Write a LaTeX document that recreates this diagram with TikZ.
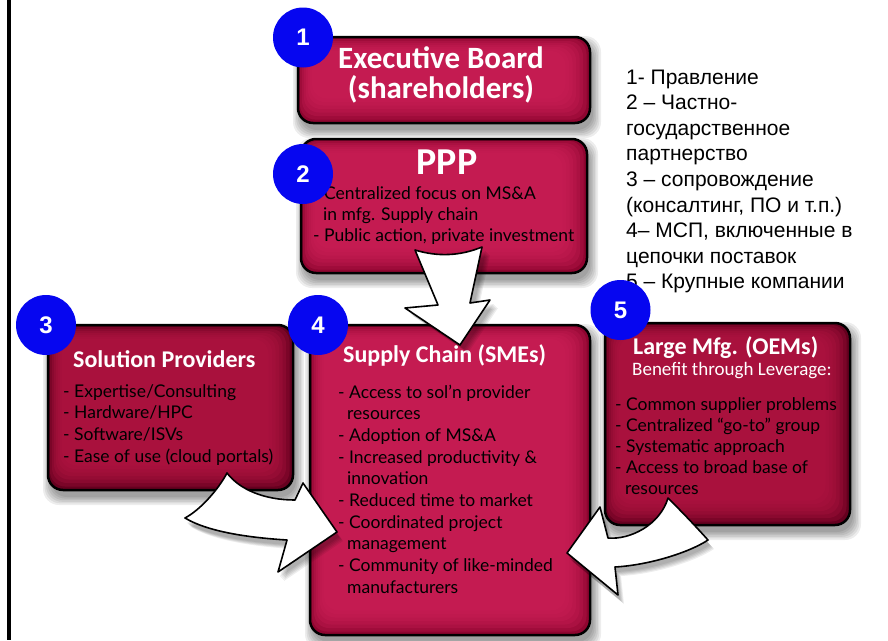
\documentclass[tikz,border=0pt]{standalone}
\usepackage{fontspec}
\setmainfont{Carlito}
\newfontfamily\arialf{Liberation Sans}
\newfontfamily\bodyf{Lato}
\usetikzlibrary{calc}
\definecolor{crimA}{rgb}{0.80,0.12,0.34}
\definecolor{crimC}{rgb}{0.56,0.02,0.19}
\definecolor{darkA}{rgb}{0.70,0.08,0.26}
\definecolor{darkC}{rgb}{0.40,0.0,0.12}
\definecolor{numblue}{rgb}{0.024,0.024,0.941}
\newcommand\boxshadow[4]{\foreach \k in {0,...,5}{\fill[black,opacity=0.07,rounded corners=16pt] ({#1+3-\k*1.6},{#2+7-\k*1.6}) rectangle ({#3+3+\k*1.6},{#4+7+\k*1.6});}}
\newcommand\vignette[2]{\foreach \k in {1,...,7}{\fill[#2,opacity=0.28,rounded corners=15pt] ([shift={({2*\k},{2*\k})}]#1.north west) rectangle ([shift={({-3.5*\k},{-3.5*\k})}]#1.south east);}
  \draw[black,line width=2.5pt,rounded corners=15pt] (#1.north west) rectangle (#1.south east);}
\newcommand\arrDown[1]{\path[#1] (415,250) .. controls (438,257) and (460,256) .. (482,247) -- (470,303) -- (490,300) -- (460,345) -- (405,308) -- (438,305) -- cycle;}
\newcommand\arrLeft[1]{\path[#1] (227,473) .. controls (240,490) and (265,500) .. (295,500) -- (303,483) -- (337,532) -- (278,572) -- (287,540) .. controls (255,538) and (210,533) .. (185,518) .. controls (200,510) and (218,490) .. (227,473) -- cycle;}
\newcommand\arrRight[1]{\path[#1] (668,498) .. controls (660,525) and (630,540) .. (608,538) -- (600,507) -- (567,553) -- (618,595) -- (615,567) .. controls (650,565) and (690,552) .. (708,540) .. controls (690,520) and (675,505) .. (668,498) -- cycle;}
\tikzset{
  boxA/.style={fill=crimC, rounded corners=15pt, inner sep=0pt, outer sep=0pt},
  boxB/.style={fill=darkC, rounded corners=15pt, inner sep=0pt, outer sep=0pt},
  titletext/.style={font=\bfseries\fontsize{24}{26}\selectfont, text=white, inner sep=0pt, anchor=base west},
  bodytext/.style={font=\bodyf\fontsize{17.5}{21}\selectfont, text=black, inner sep=0pt, anchor=base west},
  subtext/.style={font=\fontsize{19}{21}\selectfont, text=white, inner sep=0pt, anchor=base west},
  numcirc/.style={circle, fill=numblue, minimum size=60pt, inner sep=0pt, text=white, font=\arialf\bfseries\fontsize{24}{24}\selectfont},
  rtext/.style={font=\arialf\fontsize{21}{25}\selectfont, text=black, inner sep=0pt, anchor=base west},
  arrowbody/.style={fill=white, draw=black, line width=1.6pt, line join=round}
}
\begin{document}
\begin{tikzpicture}[x=1pt,y=-1pt]
\useasboundingbox (0,0) rectangle (888,640);
\fill[white] (0,0) rectangle (888,640);
\fill[black] (7,0) rectangle (11,640);
% shadows of boxes
\boxshadow{298}{37}{590}{123}
\boxshadow{301}{139}{587}{273}
\boxshadow{48}{325}{293}{490}
\boxshadow{310}{325}{590}{635}
\boxshadow{605}{323}{850}{525}
% boxes
\node[boxA, minimum width=292pt, minimum height=86pt] (eb) at (444,80) {};
\node[boxA, minimum width=286pt, minimum height=134pt] (ppp) at (444,206) {};
\node[boxB, minimum width=245pt, minimum height=165pt] (sp) at (170.5,407.5) {};
\node[boxA, minimum width=280pt, minimum height=310pt] (sc) at (450,480) {};
\node[boxB, minimum width=245pt, minimum height=202pt] (lm) at (727.5,424) {};
\vignette{eb}{crimA}
\vignette{ppp}{crimA}
\vignette{sp}{darkA}
\vignette{sc}{crimA}
\vignette{lm}{darkA}
% body texts (dark)
\node[bodytext] (ppp1) at (324,199) {Centralized focus on MS\&A};
\node[bodytext] (ppp2) at (323,220) {in mfg. Supply chain};
\node[bodytext] (ppp3) at (313,241) {- Public action, private investment};
\foreach \t [count=\i] in {{- Expertise/Consulting},{- Hardware/HPC},{- Software/ISVs},{- Ease of use (cloud portals)}}
  \node[bodytext] (sp\i) at (63,{397+21.7*(\i-1)}) {\t};
\foreach \xx/\t [count=\i] in {338/{- Access to sol’n provider},347/{resources},338/{- Adoption of MS\&A},338/{- Increased productivity \&},347/{innovation},338/{- Reduced time to market},338/{- Coordinated project},347/{management},338/{- Community of like-minded},347/{manufacturers}}
  \node[bodytext] (sc\i) at (\xx,{398+21.7*(\i-1)}) {\t};
\foreach \xx/\t [count=\i] in {615/{- Common supplier problems},615/{- Centralized “go-to” group},615/{- Systematic approach},615/{- Access to broad base of},625/{resources}}
  \node[bodytext] (lm\i) at (\xx,{410+21*(\i-1)}) {\t};
% titles (white)
\node[font=\bfseries\fontsize{31}{31}\selectfont, text=white, inner sep=0pt, anchor=base] (ebt1) at (441,68) {Executive Board};
\node[font=\bfseries\fontsize{31}{31}\selectfont, text=white, inner sep=0pt, anchor=base] (ebt2) at (441,98) {(shareholders)};
\node[font=\bfseries\fontsize{38}{38}\selectfont, text=white, inner sep=0pt, anchor=base] (pppt) at (447,174) {PPP};
\node[titletext] (spt) at (73,367) {Solution Providers};
\node[titletext] (sct) at (343,362) {Supply Chain (SMEs)};
\node[titletext] (lmt) at (633,354) {Large Mfg. (OEMs)};
\node[subtext] (lms) at (632,375) {Benefit through Leverage:};
% arrow shadows
\foreach \k in {0,...,4}{
  \arrDown{fill=black,opacity=0.07,shift={({4+\k},{4+\k})}}
  \arrLeft{fill=black,opacity=0.07,shift={({2+\k},{5+\k})}}
  \arrRight{fill=black,opacity=0.07,shift={({2+\k},{5+\k})}}
}
% arrows
\arrDown{arrowbody}
\arrLeft{arrowbody}
\arrRight{arrowbody}
% right legend
\foreach \t [count=\i] in {1- Правление,2 – Частно-,государственное,партнерство,3 – сопровождение,{(консалтинг, ПО и т.п.)},{4– МСП, включенные в},цепочки поставок,5 – Крупные компании}
  \node[rtext] (r\i) at (626,{84+25.6*(\i-1)}) {\t};
% number circles
\node[numcirc] (n1) at (303,37.5) {1};
\node[numcirc] (n2) at (303,174) {2};
\node[numcirc] (n3) at (46,325) {3};
\node[numcirc] (n4) at (318,325) {4};
\node[numcirc] (n5) at (620.5,310) {5};
\end{tikzpicture}
\end{document}
